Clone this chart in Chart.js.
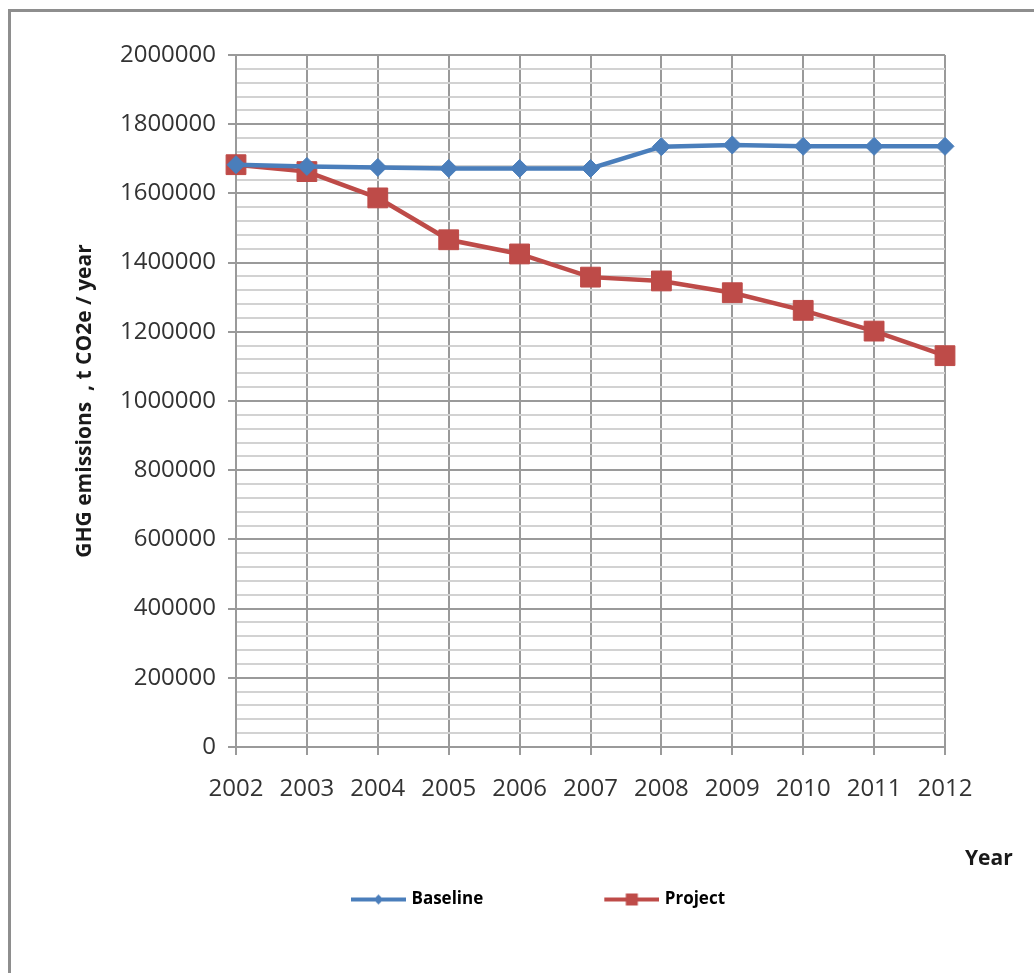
<!DOCTYPE html>
<html>
<head>
<meta charset="utf-8">
<script src="https://cdn.jsdelivr.net/npm/chart.js@4"></script>
<style>
  html, body { margin: 0; padding: 0; background: #fff; }
  #wrap { position: relative; width: 1034px; height: 973px; overflow: hidden; }
  #frame { position: absolute; left: 8px; top: 9px; width: 1040px; height: 980px;
           border-left: 3px solid #8e8e8e; border-top: 3px solid #8e8e8e; box-sizing: border-box; }
  #c { position: absolute; left: 0; top: 0; }
  #xtitle { position: absolute; left: 965px; top: 843px; font: bold 21px "Open Sans", sans-serif; color: #1a1a1a; }
</style>
</head>
<body>
<div id="wrap">
  <div id="frame"></div>
  <canvas id="c" width="1034" height="973"></canvas>
  <div id="xtitle">Year</div>
</div>
<script>
const years = ['2002','2003','2004','2005','2006','2007','2008','2009','2010','2011','2012'];
const baseline = [1683000,1678000,1675000,1672000,1672000,1672000,1735000,1740000,1736000,1736000,1736000];
const project  = [1683000,1663000,1587000,1466000,1425000,1358000,1347000,1313000,1262000,1202000,1131000];
const seriesNames = ['Baseline','Project'];
const yMax = 2000000;
const yMajor = 200000;
const yMinor = 40000;

const BLUE = '#4a7ebb';
const RED = '#be4b48';

// legend icon: blank gap on the left, then a line with a marker
const ICON_GAP = 114, ICON_LINE = 55, ICON_OVER = 3;
function legendIcon(color, style) {
  const H = 16;
  const cv = document.createElement('canvas');
  cv.width = ICON_GAP + ICON_LINE; cv.height = H;
  const g = cv.getContext('2d');
  g.strokeStyle = color; g.lineWidth = 4; g.lineCap = 'butt';
  g.beginPath(); g.moveTo(ICON_GAP, H/2); g.lineTo(ICON_GAP + ICON_LINE, H/2); g.stroke();
  g.fillStyle = color;
  const cx = ICON_GAP + ICON_LINE/2, cy = H/2;
  g.beginPath();
  if (style === 'diamond') {
    g.moveTo(cx, cy - 5); g.lineTo(cx + 5, cy); g.lineTo(cx, cy + 5); g.lineTo(cx - 5, cy); g.closePath();
  } else {
    g.rect(cx - 6, cy - 6, 12, 12);
  }
  g.fill();
  return cv;
}
const icons = [legendIcon(BLUE, 'diamond'), legendIcon(RED, 'square')];

const FONT = '"Open Sans", sans-serif';

new Chart(document.getElementById('c'), {
  type: 'line',
  data: {
    labels: years,
    datasets: [
      { label: seriesNames[0], data: baseline, borderColor: BLUE, backgroundColor: BLUE,
        borderWidth: 4.5, pointStyle: 'rectRot', pointRadius: 9, pointBorderWidth: 1,
        pointBackgroundColor: BLUE, pointBorderColor: BLUE, tension: 0 },
      { label: seriesNames[1], data: project, borderColor: RED, backgroundColor: RED,
        borderWidth: 4.5, pointStyle: 'rect', pointRadius: 14, pointBorderWidth: 1,
        pointBackgroundColor: RED, pointBorderColor: RED, tension: 0 }
    ]
  },
  options: {
    responsive: false,
    animation: false,
    devicePixelRatio: 1,
    layout: { padding: { left: 20, top: 55, right: 89, bottom: 55 } },
    plugins: {
      tooltip: { enabled: false },
      legend: {
        position: 'bottom',
        labels: {
          usePointStyle: true,
          pointStyleWidth: ICON_GAP + ICON_LINE - 2 * ICON_OVER,
          padding: 10,
          color: '#1a1a1a',
          font: { family: FONT, size: 17, weight: 'bold' },
          generateLabels: (chart) => chart.data.datasets.map((ds, i) => ({
            text: ds.label, pointStyle: icons[i], fillStyle: ds.borderColor,
            strokeStyle: ds.borderColor, lineWidth: 0, hidden: false, datasetIndex: i
          }))
        }
      }
    },
    scales: {
      x: {
        type: 'category',
        offset: false,
        afterFit: (s) => { s.height = 134; },
        grid: { offset: false, color: '#9a9a9a', lineWidth: 2, tickLength: 8, tickColor: '#9a9a9a' },
        border: { color: '#9a9a9a', width: 2 },
        ticks: { color: '#333', padding: 20, maxRotation: 0, autoSkip: false,
                 font: { family: FONT, size: 24 } }
      },
      y: {
        min: 0, max: yMax,
        afterFit: (s) => { s.width = 216; },
        grid: {
          lineWidth: 2, tickLength: 8,
          color: (ctx) => (ctx.tick && ctx.tick.value % yMajor === 0) ? '#9a9a9a' : '#d2d2d2',
          tickColor: (ctx) => (ctx.tick && ctx.tick.value % yMajor === 0) ? '#9a9a9a' : 'rgba(0,0,0,0)'
        },
        border: { color: '#9a9a9a', width: 2 },
        ticks: {
          stepSize: yMinor, maxTicksLimit: 100, autoSkip: false, padding: 12,
          color: '#333', font: { family: FONT, size: 24 },
          callback: (v) => (v % yMajor === 0) ? String(v) : ''
        },
        title: {
          display: true, text: 'GHG emissions  , t CO2e / year',
          color: '#1a1a1a', font: { family: FONT, size: 21, weight: 'bold' },
          padding: { top: 52, bottom: 0 }
        }
      }
    }
  }
});
</script>
</body>
</html>
